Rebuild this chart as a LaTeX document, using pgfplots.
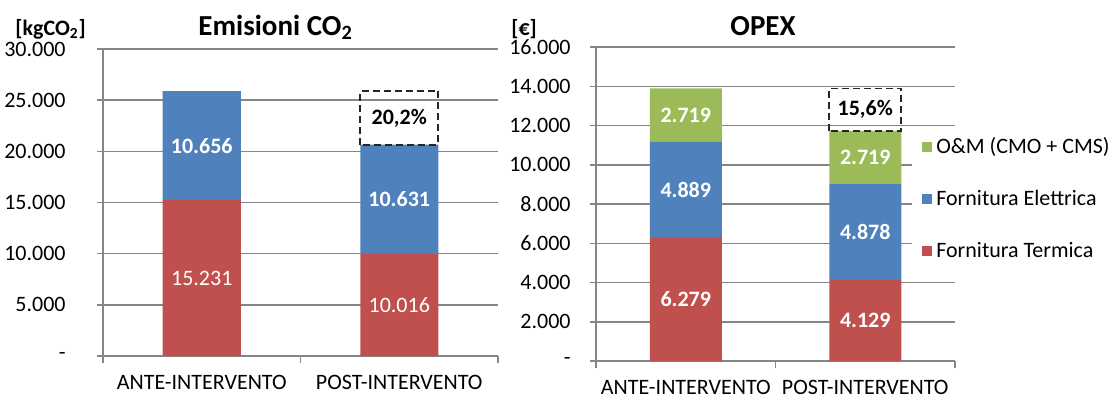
\documentclass[border=0pt]{standalone}
\usepackage{pgfplots}
\pgfplotsset{compat=1.18}
\usepackage{fontspec}
\setmainfont{Carlito}

\definecolor{termica}{HTML}{C0504D}
\definecolor{elettrica}{HTML}{4F81BD}
\definecolor{om}{HTML}{9BBB59}
\definecolor{gridgray}{HTML}{868686}

\newcommand{\lblfont}{\fontsize{11}{13}\selectfont}
\newcommand{\ttlfont}{\bfseries\fontsize{14.5}{17}\selectfont}

\tikzset{
  seglbl/.style={font=\lblfont\bfseries, text=white},
  seglight/.style={font=\lblfont, text=white},
  pctbox/.style={black!85, line width=0.9pt, dash pattern=on 3.5pt off 2pt},
}

\pgfplotsset{
  excelbars/.style={
    ybar stacked,
    scale only axis,
    clip=false,
    xmin=-0.5, xmax=1.5, ymin=0,
    scaled y ticks=false,
    axis x line*=bottom, axis y line*=left,
    axis line style={gridgray, line width=0.75pt},
    ymajorgrids,
    major grid style={gridgray, line width=0.75pt},
    xtick={0,1},
    xticklabels={ANTE-INTERVENTO,POST-INTERVENTO},
    minor xtick={-0.5,0.5,1.5},
    major x tick style={draw=none},
    minor x tick style={gridgray, line width=0.75pt},
    major y tick style={gridgray, line width=0.75pt},
    tick align=outside,
    major tick length=3pt,
    minor tick length=3.5pt,
    ticklabel style={font=\lblfont, inner sep=0pt},
    yticklabel style={anchor=east},
    xticklabel style={anchor=north, yshift=-6.5pt},
  },
}

\begin{document}
\begin{tikzpicture}
\useasboundingbox (0,0) rectangle (556pt,199pt);

% ---------------- Emissioni CO2 ----------------
\begin{axis}[excelbars,
  at={(51.5pt,21pt)}, anchor=south west,
  width=197.5pt, height=153.5pt,
  bar width=39pt,
  ymax=30000,
  ytick={0,5000,10000,15000,20000,25000,30000},
  yticklabels={{-\hspace{3.75pt}},5.000,10.000,15.000,20.000,25.000,30.000},
  yticklabel style={xshift=-15.5pt},
]
\addplot[fill=termica, draw=none] coordinates {(0,15231) (1,10016)};
\addplot[fill=elettrica, draw=none] coordinates {(0,10656) (1,10631)};

% centri dei segmenti e riquadro della riduzione
\coordinate (eA1) at (axis cs:0,7615.5);
\coordinate (eA2) at (axis cs:0,20559);
\coordinate (eP1) at (axis cs:1,5008);
\coordinate (eP2) at (axis cs:1,15331.5);
\coordinate (eBoxLo) at (axis cs:1,20647);
\coordinate (eBoxHi) at (axis cs:1,25887);
\coordinate (eBoxC) at (axis cs:1,23267);
\end{axis}

\node[seglight] at (eA1) {15.231};
\node[seglbl]   at (eA2) {10.656};
\node[seglight] at (eP1) {10.016};
\node[seglbl]   at (eP2) {10.631};
\draw[pctbox] ([xshift=-19.5pt]eBoxLo) rectangle ([xshift=19.5pt]eBoxHi);
\node[font=\lblfont\bfseries] at (eBoxC) {20,2\%};

% ---------------- OPEX ----------------
\begin{axis}[excelbars,
  at={(298pt,18.5pt)}, anchor=south west,
  width=179.5pt, height=157pt,
  bar width=36pt,
  ymax=16000,
  ytick={0,2000,4000,6000,8000,10000,12000,14000,16000},
  yticklabels={{-\hspace{3.75pt}},2.000,4.000,6.000,8.000,10.000,12.000,14.000,16.000},
  yticklabel style={xshift=-9.5pt},
  reverse legend,
  legend cell align=left,
  legend image code/.code={\fill[#1] (0pt,-2.5pt) rectangle (5pt,2.5pt);},
  legend style={at={(axis description cs:0.880,0.516)}, anchor=west,
    fill=white, draw=none, font=\lblfont, row sep=12.75pt,
    inner xsep=5pt, inner ysep=4pt},
]
\addplot[fill=termica, draw=none] coordinates {(0,6279) (1,4129)};
\addplot[fill=elettrica, draw=none] coordinates {(0,4889) (1,4878)};
\addplot[fill=om, draw=none] coordinates {(0,2719) (1,2719)};
\legend{Fornitura Termica, Fornitura Elettrica, O\&M (CMO + CMS)}

\coordinate (oA1) at (axis cs:0,3139.5);
\coordinate (oA2) at (axis cs:0,8723.5);
\coordinate (oA3) at (axis cs:0,12527.5);
\coordinate (oP1) at (axis cs:1,2064.5);
\coordinate (oP2) at (axis cs:1,6568);
\coordinate (oP3) at (axis cs:1,10366.5);
\coordinate (oBoxLo) at (axis cs:1,11726);
\coordinate (oBoxHi) at (axis cs:1,13887);
\coordinate (oBoxC) at (axis cs:1,12806.5);
\end{axis}

\node[seglbl] at (oA1) {6.279};
\node[seglbl] at (oA2) {4.889};
\node[seglbl] at (oA3) {2.719};
\node[seglbl] at (oP1) {4.129};
\node[seglbl] at (oP2) {4.878};
\node[seglbl] at (oP3) {2.719};
\draw[pctbox] ([xshift=-18pt]oBoxLo) rectangle ([xshift=18pt]oBoxHi);
\node[font=\lblfont\bfseries] at (oBoxC) {15,6\%};

% titoli e unità di misura
\node[anchor=base west, inner sep=0pt, font=\ttlfont] at (99pt,181.5pt) {Emisioni CO\textsubscript{2}};
\node[anchor=base west, inner sep=0pt, font=\lblfont\bfseries] at (7.5pt,181.5pt) {[kgCO\textsubscript{2}]};
\node[anchor=base west, inner sep=0pt, font=\ttlfont] at (365pt,181.5pt) {OPEX};
\node[anchor=base west, inner sep=0pt, font=\lblfont\bfseries] at (255.5pt,181.5pt) {[€]};
\end{tikzpicture}
\end{document}
